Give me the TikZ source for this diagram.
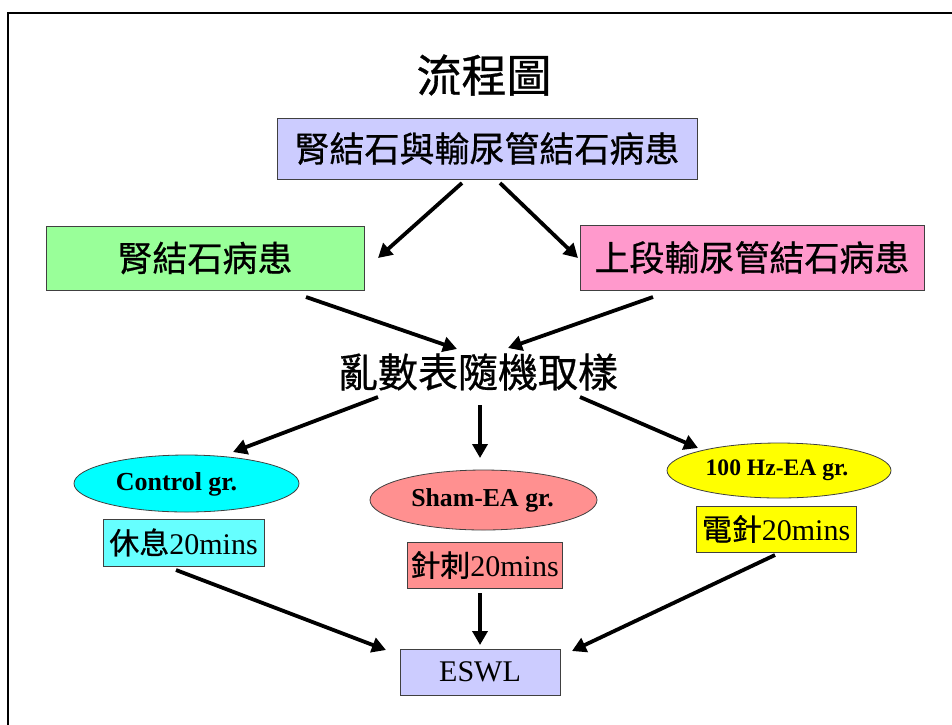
\documentclass[tikz,border=0pt]{standalone}
\usepackage{fontspec}
\setmainfont{Liberation Serif}
\newfontfamily\cjk[FakeBold=0.7]{Noto Sans CJK TC}
\usetikzlibrary{arrows.meta,shapes.geometric}
\definecolor{lav}{HTML}{CCCCFF}
\definecolor{grn}{HTML}{99FF99}
\definecolor{pnk}{HTML}{FF99CC}
\definecolor{cyn}{HTML}{00FFFF}
\definecolor{lcyn}{HTML}{66FFFF}
\definecolor{sal}{HTML}{FF9090}
\definecolor{ylw}{HTML}{FFFF00}
\begin{document}
\begin{tikzpicture}[x=1pt,y=-1pt,
  box/.style={draw=black!75, line width=1pt, inner sep=0pt},
  ell/.style={ellipse, draw=black!75, line width=0.8pt, inner sep=0pt},
  arr/.style={line width=3.8pt, -{Triangle[length=14pt,width=15pt]}},
  big/.style={font=\cjk\fontsize{35}{40}\selectfont},
  mid/.style={font=\fontsize{30}{34}\selectfont}]
\useasboundingbox (0,0) rectangle (952,724);
\draw[line width=2.5pt] (8,730) -- (8,13) -- (960,13);

\node[font=\cjk\fontsize{45}{50}\selectfont] (title) at (484,75) {流程圖};

\node[box, big, fill=lav, minimum width=420, minimum height=61] (b1) at (487,148.5) {腎結石與輸尿管結石病患};
\node[box, big, fill=grn, minimum width=318, minimum height=64] (b2) at (205,258) {腎結石病患};
\node[box, big, fill=pnk, minimum width=344, minimum height=65] (b3) at (752,257.5) {上段輸尿管結石病患};

\node[font=\cjk\fontsize{40}{44}\selectfont] (rnd) at (478,372) {亂數表隨機取樣};

\node[ell, fill=cyn, minimum width=225, minimum height=57] (e1) at (186.5,483.5) {};
\node[font=\bfseries\fontsize{26}{30}\selectfont] (t1) at (176.5,484) {Control gr.};
\node[ell, fill=sal, minimum width=227, minimum height=60] (e2) at (483.5,500) {};
\node[font=\bfseries\fontsize{25.8}{30}\selectfont] (t2) at (482.5,500) {Sham-EA gr.};
\node[ell, fill=ylw, minimum width=224, minimum height=55] (e3) at (779,470.5) {};
\node[font=\bfseries\fontsize{23.6}{28}\selectfont] (t3) at (777,470.5) {100 Hz-EA gr.};

\node[box, mid, fill=lcyn, minimum width=161, minimum height=47] (s1) at (183.5,542.5) {{\cjk 休息}20mins};
\node[box, mid, fill=sal, minimum width=155, minimum height=46] (s2) at (484.5,565) {{\cjk 針刺}20mins};
\node[box, mid, fill=ylw, minimum width=160, minimum height=46] (s3) at (776,529) {{\cjk 電針}20mins};

\node[box, mid, fill=lav, minimum width=160, minimum height=46] (eswl) at (480,672) {ESWL};

\coordinate (a1s) at (462,183); \coordinate (a1e) at (378,258);
\coordinate (a2s) at (500,183); \coordinate (a2e) at (578,258);
\coordinate (a3s) at (306,297); \coordinate (a3e) at (457,349);
\coordinate (a4s) at (653,297); \coordinate (a4e) at (508,348);
\coordinate (a5s) at (378,397); \coordinate (a5e) at (233,452);
\coordinate (a6s) at (480,405); \coordinate (a6e) at (480,458);
\coordinate (a7s) at (580,397); \coordinate (a7e) at (698,448);
\coordinate (a8s) at (176,570); \coordinate (a8e) at (386,650);
\coordinate (a9s) at (480,593); \coordinate (a9e) at (480,645);
\coordinate (a10s) at (775,555); \coordinate (a10e) at (572,651);

\draw[arr] (a1s) -- (a1e);
\draw[arr] (a2s) -- (a2e);
\draw[arr] (a3s) -- (a3e);
\draw[arr] (a4s) -- (a4e);
\draw[arr] (a5s) -- (a5e);
\draw[arr] (a6s) -- (a6e);
\draw[arr] (a7s) -- (a7e);
\draw[arr] (a8s) -- (a8e);
\draw[arr] (a9s) -- (a9e);
\draw[arr] (a10s) -- (a10e);
\end{tikzpicture}
\end{document}
